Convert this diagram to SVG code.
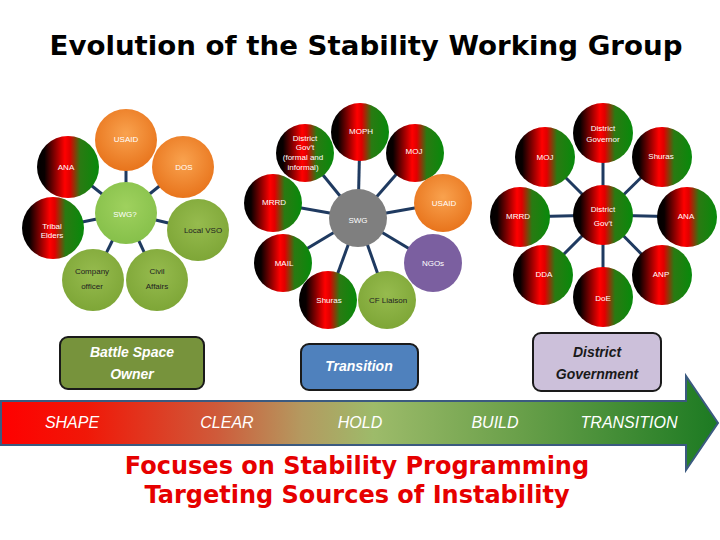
<svg xmlns="http://www.w3.org/2000/svg" width="720" height="540" viewBox="0 0 720 540">
<defs>
<linearGradient id="brg" x1="0" y1="0" x2="1" y2="0">
<stop offset="0" stop-color="#000"/>
<stop offset="0.12" stop-color="#080000"/>
<stop offset="0.45" stop-color="#ff0000"/>
<stop offset="0.53" stop-color="#e00000"/>
<stop offset="0.7" stop-color="#2a7a12"/>
<stop offset="1" stop-color="#078a0b"/>
</linearGradient>
<radialGradient id="orange" cx="0.5" cy="0.4" r="0.6">
<stop offset="0" stop-color="#f9a24e"/>
<stop offset="1" stop-color="#e8741c"/>
</radialGradient>
<radialGradient id="green" cx="0.5" cy="0.4" r="0.6">
<stop offset="0" stop-color="#96bb4e"/>
<stop offset="1" stop-color="#7ea637"/>
</radialGradient>
<radialGradient id="lgreen" cx="0.5" cy="0.4" r="0.6">
<stop offset="0" stop-color="#9fd15e"/>
<stop offset="1" stop-color="#86c04a"/>
</radialGradient>
<linearGradient id="arrowg" x1="0" y1="0" x2="1" y2="0">
<stop offset="0" stop-color="#ff0000"/>
<stop offset="0.12" stop-color="#f01808"/>
<stop offset="0.3" stop-color="#cf5a3a"/>
<stop offset="0.42" stop-color="#b49a60"/>
<stop offset="0.52" stop-color="#9dbb6a"/>
<stop offset="0.72" stop-color="#6aa04a"/>
<stop offset="1" stop-color="#1c7a22"/>
</linearGradient>
</defs>
<style>
.c{stroke:none}
.t{font-family:"Liberation Sans",Arial,sans-serif;fill:#fff;font-size:8px;text-anchor:middle}
.k{stroke:#1f3a60;stroke-width:3}
.box{stroke:#1a1a1a;stroke-width:2}
.bt{font-family:"Liberation Sans",Arial,sans-serif;font-style:italic;font-weight:bold;font-size:14px;text-anchor:middle}
.at{font-family:"Liberation Sans",Arial,sans-serif;font-style:italic;font-size:16px;fill:#fff;text-anchor:middle}
.bot{font-family:"DejaVu Sans",Verdana,sans-serif;font-weight:bold;font-size:24px;fill:#e60000;text-anchor:middle}
</style>
<rect width="720" height="540" fill="#fff"/>
<text x="366" y="55" font-family="DejaVu Sans,Verdana,sans-serif" font-weight="bold" font-size="26" text-anchor="middle" fill="#000" textLength="633" lengthAdjust="spacingAndGlyphs">Evolution of the Stability Working Group</text>

<g id="connectors">
<line class="k" x1="126" y1="213" x2="126" y2="140"/>
<line class="k" x1="126" y1="213" x2="183" y2="167"/>
<line class="k" x1="126" y1="213" x2="68" y2="167"/>
<line class="k" x1="126" y1="213" x2="53" y2="228"/>
<line class="k" x1="126" y1="213" x2="198" y2="230"/>
<line class="k" x1="126" y1="213" x2="93" y2="280"/>
<line class="k" x1="126" y1="213" x2="157" y2="280"/>
<line class="k" x1="358" y1="218" x2="360" y2="132"/>
<line class="k" x1="358" y1="218" x2="415" y2="153"/>
<line class="k" x1="358" y1="218" x2="305" y2="153"/>
<line class="k" x1="358" y1="218" x2="273" y2="203"/>
<line class="k" x1="358" y1="218" x2="443" y2="203"/>
<line class="k" x1="358" y1="218" x2="283" y2="263"/>
<line class="k" x1="358" y1="218" x2="433" y2="263"/>
<line class="k" x1="358" y1="218" x2="328" y2="300"/>
<line class="k" x1="358" y1="218" x2="387" y2="300"/>
<line class="k" x1="603" y1="215" x2="603" y2="133"/>
<line class="k" x1="603" y1="215" x2="545" y2="157"/>
<line class="k" x1="603" y1="215" x2="662" y2="157"/>
<line class="k" x1="603" y1="215" x2="520" y2="217"/>
<line class="k" x1="603" y1="215" x2="687" y2="217"/>
<line class="k" x1="603" y1="215" x2="543" y2="275"/>
<line class="k" x1="603" y1="215" x2="662" y2="275"/>
<line class="k" x1="603" y1="215" x2="603" y2="297"/>
</g>

<g id="l-usaid"><circle cx="126" cy="140" r="31" fill="url(#orange)"/><text class="t" x="126" y="142">USAID</text></g>
<g id="l-dos"><circle cx="183" cy="167" r="31" fill="url(#orange)"/><text class="t" x="184" y="170">DOS</text></g>
<g id="l-ana"><circle cx="68" cy="167" r="31" fill="url(#brg)"/><text class="t" x="66" y="170">ANA</text></g>
<g id="l-swg"><circle cx="126" cy="213" r="31" fill="url(#lgreen)"/><text class="t" x="125" y="217" font-size="10">SWG?</text></g>
<g id="l-tribal"><circle cx="53" cy="228" r="31" fill="url(#brg)"/><text class="t" x="52" y="229">Tribal</text><text class="t" x="52" y="238">Elders</text></g>
<g id="l-vso"><circle cx="198" cy="230" r="31" fill="url(#green)"/><text class="t" x="203" y="233" style="fill:#222">Local VSO</text></g>
<g id="l-company"><circle cx="93" cy="280" r="31" fill="url(#green)"/><text class="t" x="92" y="274" style="fill:#222">Company</text><text class="t" x="92" y="289" style="fill:#222">officer</text></g>
<g id="l-civil"><circle cx="157" cy="280" r="31" fill="url(#green)"/><text class="t" x="157" y="274" style="fill:#222">Civil</text><text class="t" x="157" y="289" style="fill:#222">Affairs</text></g>

<g id="m-moph"><circle cx="360" cy="132" r="29" fill="url(#brg)"/><text class="t" x="361" y="134">MOPH</text></g>
<g id="m-moj"><circle cx="415" cy="153" r="29" fill="url(#brg)"/><text class="t" x="414" y="154">MOJ</text></g>
<g id="m-dgov"><circle cx="305" cy="153" r="29" fill="url(#brg)"/><text class="t" x="305" y="141" font-size="7.5">District</text><text class="t" x="305" y="150" font-size="7.5">Gov't</text><text class="t" x="303" y="160" font-size="7.5">(formal and</text><text class="t" x="303" y="170" font-size="7.5">informal)</text></g>
<g id="m-mrrd"><circle cx="273" cy="203" r="29" fill="url(#brg)"/><text class="t" x="274" y="205">MRRD</text></g>
<g id="m-usaid"><circle cx="443" cy="203" r="29" fill="url(#orange)"/><text class="t" x="444" y="206">USAID</text></g>
<g id="m-swg"><circle cx="358" cy="218" r="29" fill="#7f7f7f"/><text class="t" x="358" y="223" font-size="15">SWG</text></g>
<g id="m-mail"><circle cx="283" cy="263" r="29" fill="url(#brg)"/><text class="t" x="284" y="266">MAIL</text></g>
<g id="m-ngos"><circle cx="433" cy="263" r="29" fill="#7b5fa0"/><text class="t" x="433" y="266">NGOs</text></g>
<g id="m-shuras"><circle cx="328" cy="300" r="29" fill="url(#brg)"/><text class="t" x="329" y="303">Shuras</text></g>
<g id="m-cf"><circle cx="387" cy="300" r="29" fill="url(#green)"/><text class="t" x="388" y="303" style="fill:#222">CF Liaison</text></g>

<g id="r-dgovernor"><circle cx="603" cy="133" r="30" fill="url(#brg)"/><text class="t" x="603" y="131">District</text><text class="t" x="603" y="142">Governor</text></g>
<g id="r-moj"><circle cx="545" cy="157" r="30" fill="url(#brg)"/><text class="t" x="545" y="160">MOJ</text></g>
<g id="r-shuras"><circle cx="662" cy="157" r="30" fill="url(#brg)"/><text class="t" x="661" y="159">Shuras</text></g>
<g id="r-mrrd"><circle cx="520" cy="217" r="30" fill="url(#brg)"/><text class="t" x="518" y="219">MRRD</text></g>
<g id="r-dgovt"><circle cx="603" cy="215" r="30" fill="url(#brg)"/><text class="t" x="603" y="212" font-size="11">District</text><text class="t" x="603" y="226" font-size="11">Gov't</text></g>
<g id="r-ana"><circle cx="687" cy="217" r="30" fill="url(#brg)"/><text class="t" x="686" y="219">ANA</text></g>
<g id="r-dda"><circle cx="543" cy="275" r="30" fill="url(#brg)"/><text class="t" x="544" y="277">DDA</text></g>
<g id="r-anp"><circle cx="662" cy="275" r="30" fill="url(#brg)"/><text class="t" x="661" y="277">ANP</text></g>
<g id="r-doe"><circle cx="603" cy="297" r="30" fill="url(#brg)"/><text class="t" x="603" y="301">DoE</text></g>

<g id="arrow">
<path d="M1,401 H686 V376 L718,423 L686,470 V445 H1 Z" fill="url(#arrowg)" stroke="#3b5a80" stroke-width="2"/>
<text class="at" x="72" y="428">SHAPE</text>
<text class="at" x="227" y="428">CLEAR</text>
<text class="at" x="360" y="428">HOLD</text>
<text class="at" x="495" y="428">BUILD</text>
<text class="at" x="629" y="428">TRANSITION</text>
</g>

<g id="box-bso"><rect class="box" x="60" y="337" width="144" height="52" rx="8" fill="#77933c"/><text class="bt" x="132" y="357" fill="#fff">Battle Space</text><text class="bt" x="132" y="379" fill="#fff">Owner</text></g>
<g id="box-transition"><rect class="box" x="301" y="344" width="117" height="46" rx="8" fill="#4f81bd"/><text class="bt" x="359" y="371" fill="#fff">Transition</text></g>
<g id="box-dg"><rect class="box" x="533" y="333" width="128" height="58" rx="8" fill="#ccc0da"/><text class="bt" x="597" y="357" fill="#1a1a1a">District</text><text class="bt" x="597" y="379" fill="#1a1a1a">Government</text></g>

<text class="bot" x="357" y="474">Focuses on Stability Programming</text>
<text class="bot" x="357" y="503">Targeting Sources of Instability</text>
</svg>
